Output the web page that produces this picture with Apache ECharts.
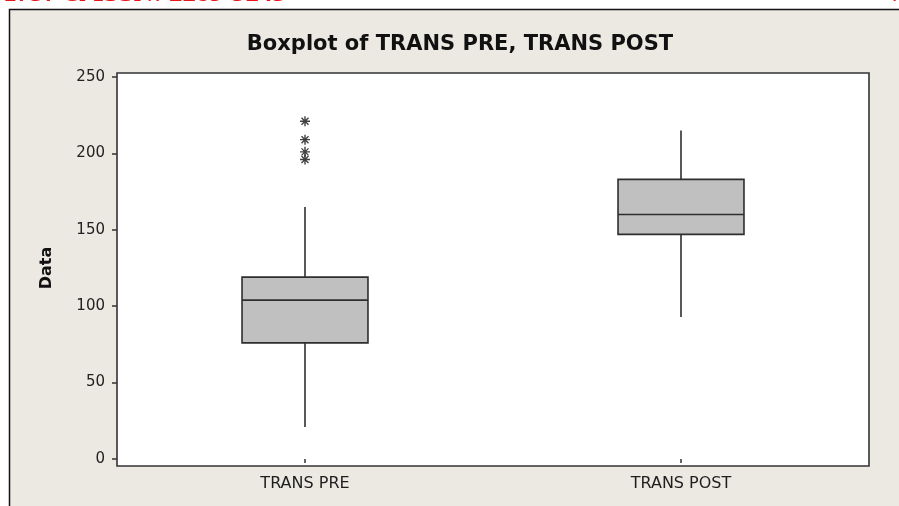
<!DOCTYPE html>
<html>
<head>
<meta charset="utf-8">
<title>Boxplot of TRANS PRE, TRANS POST</title>
<script src="https://cdn.jsdelivr.net/npm/echarts@6/dist/echarts.min.js"></script>
<style>
  html, body { margin: 0; padding: 0; background: #fff; }
  #chart { width: 899px; height: 506px; }
</style>
</head>
<body>
<div id="chart"></div>
<script>
// values
const categories = ['TRANS PRE', 'TRANS POST'];
const boxMin = [21, 93];
const boxQ1 = [76, 147];
const boxMedian = [104, 160];
const boxQ3 = [119, 183];
const boxMax = [165, 215];
const outliersPre = [221, 209, 201, 196];   // asterisks above TRANS PRE
const yTickMin = 0;
const yTickMax = 250;
const yTickStep = 50;

const boxData = categories.map(function (c, i) {
  return [i, boxMin[i], boxQ1[i], boxMedian[i], boxQ3[i], boxMax[i]];
});
const outlierData = outliersPre.map(function (v) {
  return [categories[0], v];
});

// minitab style box: no caps on whiskers
function renderBox(params, api) {
  const cat = api.value(0);
  const x = api.coord([cat, 0])[0];
  const yMin = api.coord([cat, api.value(1)])[1];
  const yQ1 = api.coord([cat, api.value(2)])[1];
  const yMed = api.coord([cat, api.value(3)])[1];
  const yQ3 = api.coord([cat, api.value(4)])[1];
  const yMax = api.coord([cat, api.value(5)])[1];
  const w = api.size([1, 0])[0] * 0.335;
  const line = { stroke: '#2e2e2e', lineWidth: 1.6 };
  return {
    type: 'group',
    children: [
      { type: 'line', shape: { x1: x, y1: yQ1, x2: x, y2: yMin }, style: line },
      { type: 'line', shape: { x1: x, y1: yQ3, x2: x, y2: yMax }, style: line },
      { type: 'rect', shape: { x: x - w / 2, y: yQ3, width: w, height: yQ1 - yQ3 },
        style: { fill: '#c0c0c0', stroke: '#2e2e2e', lineWidth: 1.6 } },
      { type: 'line', shape: { x1: x - w / 2, y1: yMed, x2: x + w / 2, y2: yMed }, style: line }
    ]
  };
}

const option = {
  animation: false,
  backgroundColor: '#fff',
  textStyle: { fontFamily: 'DejaVu Sans' },
  graphic: [
    // page scraps: header strip and beige window
    { type: 'rect', z: -20, shape: { x: 9.5, y: 9.5, width: 900, height: 500 },
      style: { fill: '#ece9e2', stroke: '#111', lineWidth: 1.5 } },
    { type: 'text', z: -10, style: { x: 286, y: 8, text: '-1737 & ISSN: 2289-3245', align: 'right', verticalAlign: 'bottom',
      font: 'bold 27px "Liberation Serif"', fill: '#e8141a' } },
    { type: 'text', z: -10, style: { x: 886, y: 8, text: 'W', align: 'left', verticalAlign: 'bottom',
      font: 'bold 27px "Liberation Serif"', fill: '#e8141a' } },
    // plot area
    { type: 'rect', z: -5, shape: { x: 117, y: 73, width: 752, height: 393 },
      style: { fill: '#fff' } },
    { type: 'rect', z: 50, shape: { x: 117, y: 73, width: 752, height: 393 },
      style: { fill: 'none', stroke: '#333', lineWidth: 1.6 } },
    { type: 'text', z: 50, style: { x: 460, y: 45, text: 'Boxplot of TRANS PRE, TRANS POST', align: 'center', verticalAlign: 'middle',
      font: 'bold 21px "DejaVu Sans"', fill: '#111' } }
  ],
  grid: { left: 117, right: 30, top: 77, bottom: 47 },
  xAxis: {
    type: 'category',
    data: categories,
    offset: 7,
    axisLine: { show: false },
    axisTick: { show: true, alignWithLabel: true, length: 4, lineStyle: { color: '#333', width: 1.5 } },
    axisLabel: { color: '#1e1e1e', fontSize: 16, margin: 10 }
  },
  yAxis: {
    type: 'value',
    min: yTickMin,
    max: yTickMax,
    interval: yTickStep,
    name: 'Data',
    nameLocation: 'middle',
    nameRotate: 90,
    nameGap: 62,
    nameTextStyle: { fontSize: 16, fontWeight: 'bold', color: '#111' },
    axisLine: { show: false },
    axisTick: { show: true, length: 5, lineStyle: { color: '#333', width: 1.5 } },
    splitLine: { show: false },
    axisLabel: { color: '#222', fontSize: 15, margin: 12 }
  },
  series: [
    {
      type: 'custom',
      renderItem: renderBox,
      data: boxData,
      encode: { x: 0, y: [1, 2, 3, 4, 5] },
      z: 5
    },
    {
      type: 'scatter',
      data: outlierData,
      symbol: 'path://M0,5L10,5M5,0L5,10M1.5,1.5L8.5,8.5M8.5,1.5L1.5,8.5',
      symbolSize: 10,
      itemStyle: { color: 'none', borderColor: '#111', borderWidth: 1.4 },
      emphasis: { disabled: true },
      z: 6
    }
  ]
};

let chart = echarts.init(document.getElementById('chart'));
chart.setOption(option);
</script>
</body>
</html>
